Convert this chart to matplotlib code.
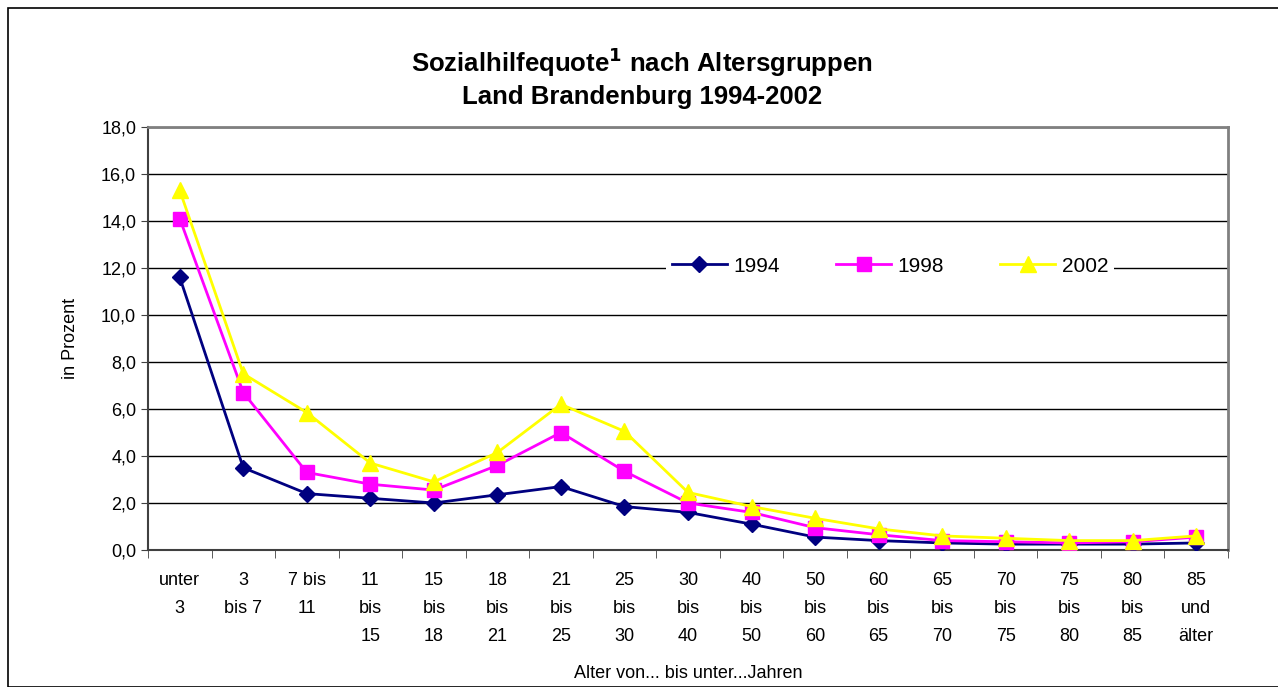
"""Sozialhilfequote nach Altersgruppen, Land Brandenburg 1994-2002"""

import numpy as np
import matplotlib.pyplot as plt
from matplotlib.ticker import FuncFormatter, FixedLocator

plt.rcParams['font.family'] = ['Liberation Sans', 'DejaVu Sans']

# Altersgruppen (Tick-Beschriftungen)
age_groups = ['unter\n3', '3\nbis 7', '7 bis\n11', '11\nbis\n15', '15\nbis\n18',
              '18\nbis\n21', '21\nbis\n25', '25\nbis\n30', '30\nbis\n40',
              '40\nbis\n50', '50\nbis\n60', '60\nbis\n65', '65\nbis\n70',
              '70\nbis\n75', '75\nbis\n80', '80\nbis\n85', '85\nund\nälter']

# Quoten in Prozent
q1994 = [11.6, 3.5, 2.4, 2.2, 2.0, 2.35, 2.7, 1.85, 1.6, 1.1, 0.55, 0.4,
         0.3, 0.25, 0.25, 0.25, 0.3]
q1998 = [14.1, 6.7, 3.3, 2.8, 2.55, 3.6, 5.0, 3.35, 2.0, 1.6, 0.95, 0.65,
         0.4, 0.35, 0.3, 0.35, 0.55]
q2002 = [15.3, 7.5, 5.85, 3.7, 2.9, 4.15, 6.2, 5.05, 2.45, 1.85, 1.35, 0.9,
         0.6, 0.5, 0.4, 0.4, 0.6]

fig = plt.figure(figsize=(12.78, 6.87), dpi=100)
ax = fig.add_axes([148 / 1278, 1 - 550 / 687, 1080 / 1278, 423 / 687])

# Rahmen um die ganze Grafik
fig.patches.append(plt.Rectangle((8 / 1278, 0), 1, 1 - 8 / 687,
                                 transform=fig.transFigure, fill=False,
                                 edgecolor='black', linewidth=1.2))

x = np.arange(len(age_groups))
ax.plot(x, q1994, color='#000080', marker='D', markersize=8, linewidth=2,
        label='1994', zorder=3)
ax.plot(x, q1998, color='#FF00FF', marker='s', markersize=10, linewidth=2,
        label='1998', zorder=4)
ax.plot(x, q2002, color='#FFFF00', marker='^', markersize=11, linewidth=2,
        label='2002', zorder=5)

ax.set_xlim(-0.5, len(age_groups) - 0.5)
ax.set_ylim(0, 18)
ax.set_yticks(np.arange(0, 18.1, 2))
ax.yaxis.set_major_formatter(FuncFormatter(lambda v, p: f'{v:.1f}'.replace('.', ',')))
ax.grid(axis='y', color='black', linewidth=1)
ax.set_axisbelow(True)

ax.set_xticks(x)
ax.set_xticklabels(age_groups, fontsize=13, linespacing=1.85, va='top')
ax.xaxis.set_minor_locator(FixedLocator(np.arange(-0.5, len(age_groups), 1)))
ax.tick_params(axis='x', which='major', length=0, pad=16)
ax.tick_params(axis='x', which='minor', length=6, direction='out', color='#404040')
ax.tick_params(axis='y', length=5, direction='out', labelsize=13, color='#404040')

for side in ['top', 'right']:
    ax.spines[side].set_color('#808080')
    ax.spines[side].set_linewidth(2)
for side in ['left', 'bottom']:
    ax.spines[side].set_color('#404040')
    ax.spines[side].set_linewidth(1.5)

ax.set_ylabel('in Prozent', fontsize=13, labelpad=16)
ax.set_xlabel('Alter von... bis unter...Jahren', fontsize=13, labelpad=14)

fig.text(642 / 1278, 1 - 62 / 687, r'Sozialhilfequote$^{\mathbf{1}}$ nach Altersgruppen',
         ha='center', va='center', fontsize=18.5, fontweight='bold')
fig.text(642 / 1278, 1 - 97 / 687, 'Land Brandenburg 1994-2002',
         ha='center', va='center', fontsize=18.5, fontweight='bold')

leg = ax.legend(loc='center', bbox_to_anchor=(890 / 1278, 1 - 266 / 687),
                bbox_transform=fig.transFigure, ncol=3, frameon=True,
                fontsize=15, handlelength=2.65, handletextpad=0.3,
                columnspacing=2.7, borderpad=0.3, borderaxespad=0,
                fancybox=False)
leg.get_frame().set_edgecolor('none')
leg.get_frame().set_facecolor('white')
leg.get_frame().set_alpha(1)

plt.savefig('out.png', dpi=100)
